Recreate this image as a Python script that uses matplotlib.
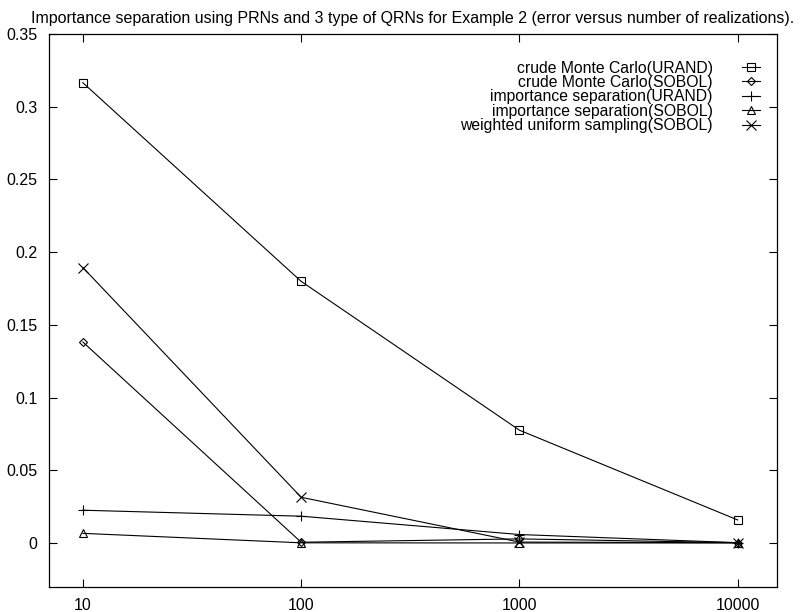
import matplotlib
matplotlib.use('Agg')
import matplotlib.pyplot as plt
import numpy as np

plt.rcParams['font.family'] = ['Liberation Sans', 'DejaVu Sans']

# number of realizations
realizations = [10, 100, 1000, 10000]
xtick_labels = ['10', '100', '1000', '10000']

crude_urand = [0.3165, 0.180, 0.0777, 0.0160]
crude_sobol = [0.1383, 0.0007, 0.0030, 0.0004]
imp_urand = [0.0227, 0.0186, 0.0060, 0.0004]
imp_sobol = [0.0068, 0.0003, 0.0002, 0.0002]
weighted_sobol = [0.1895, 0.0316, 0.0008, 0.0004]

labels = ['crude Monte Carlo(URAND)', 'crude Monte Carlo(SOBOL)',
          'importance separation(URAND)', 'importance separation(SOBOL)',
          'weighted uniform sampling(SOBOL)']
markers = ['s', 'D', '+', '^', 'x']
msizes = [6, 4, 7, 6, 7]

fig = plt.figure(figsize=(8, 6.12), dpi=100)
ax = fig.add_axes([0.061, 0.041, 0.91, 0.9035])

series = [crude_urand, crude_sobol, imp_urand, imp_sobol, weighted_sobol]
for ys, lab, m, ms in zip(series, labels, markers, msizes):
    ax.plot(realizations, ys, color='black', linewidth=0.8, marker=m,
            markersize=ms, markerfacecolor='none', markeredgecolor='black',
            markeredgewidth=0.8, label=lab)

ax.set_xscale('log')
ax.set_xlim(10 ** 0.844, 10 ** 4.179)
ax.set_ylim(-0.03, 0.35)
ax.set_xticks(realizations)
ax.set_xticklabels(xtick_labels)
ax.xaxis.set_minor_locator(matplotlib.ticker.NullLocator())
ax.set_yticks(np.arange(0, 0.351, 0.05))
ax.yaxis.set_major_formatter(matplotlib.ticker.FormatStrFormatter('%g'))
ax.tick_params(direction='in', top=True, right=True, length=6, width=0.8,
               labelsize=11.5, colors='black', pad=8)
for sp in ax.spines.values():
    sp.set_linewidth(0.9)

ax.set_title('Importance separation using PRNs and 3 type of QRNs for Example 2 '
             '(error versus number of realizations).', fontsize=11.5, pad=8)

leg = ax.legend(loc='upper right', bbox_to_anchor=(0.9766, 0.952),
                frameon=False, markerfirst=False, fontsize=11.3,
                handlelength=1.15, handletextpad=1.85, labelspacing=-0.04,
                borderpad=0, borderaxespad=0)

fig.savefig('out.png', dpi=100)
